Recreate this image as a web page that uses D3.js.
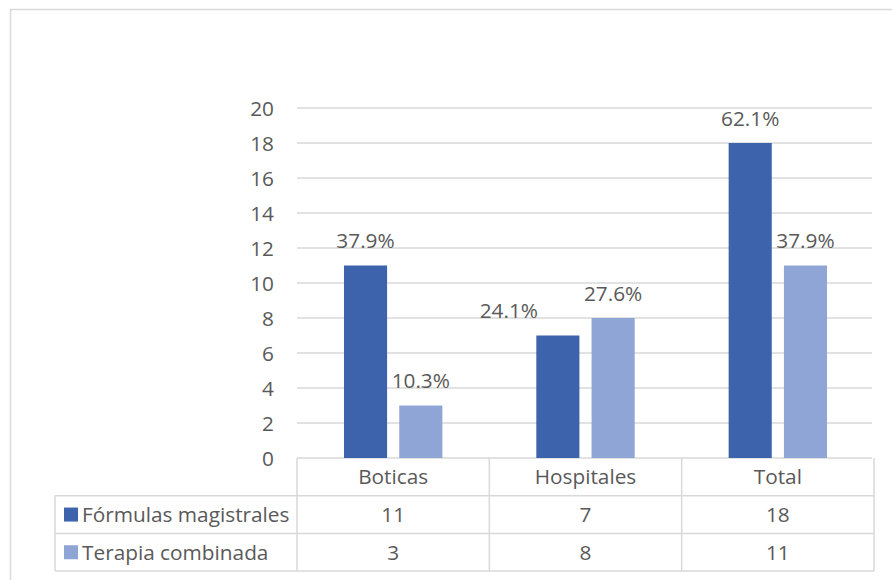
<!DOCTYPE html>
<html>
<head>
<meta charset="utf-8">
<script src="https://cdn.jsdelivr.net/npm/d3@7"></script>
<style>
    body { margin: 0; background: #fff; }
    svg text { font-family: "Open Sans", "Noto Sans", sans-serif; fill: #595959; }
</style>
</head>
<body>
<div id="chart"></div>
<script>
// data
var categories = ["Boticas", "Hospitales", "Total"];
var series = ["Fórmulas magistrales", "Terapia combinada"];
var formulas = [11, 7, 18];
var terapia = [3, 8, 11];
var formulasPct = ["37.9%", "24.1%", "62.1%"];
var terapiaPct = ["10.3%", "27.6%", "37.9%"];
var yTicks = [0, 2, 4, 6, 8, 10, 12, 14, 16, 18, 20];

var colors = ["#3c63ac", "#8fa5d5"];
var grid = "#d9d9d9";
var fs = "20.8px";

var width = 892, height = 580;
var plotLeft = 297, plotRight = 874, plotTop = 108, plotBottom = 458;
var rowH = 37.7, tableLeft = 55;

var svg = d3.select("#chart").append("svg")
    .attr("width", width)
    .attr("height", height);

// chart frame
svg.append("rect")
    .attr("x", 10.5).attr("y", 9.5)
    .attr("width", 900).attr("height", 600)
    .attr("fill", "none").attr("stroke", grid).attr("stroke-width", 1.5);

var y = d3.scaleLinear().domain([0, 20]).range([plotBottom, plotTop]);
var x0 = d3.scaleBand().domain(categories).range([plotLeft, plotRight]);
var x1 = d3.scaleBand().domain(series).range([0, x0.bandwidth()])
    .paddingInner(0.22).paddingOuter(0.85);

// gridlines + tick labels
svg.append("g").selectAll("line")
    .data(yTicks).enter().append("line")
    .attr("x1", plotLeft).attr("x2", plotRight - 2)
    .attr("y1", function (d) { return y(d); })
    .attr("y2", function (d) { return y(d); })
    .attr("stroke", grid).attr("stroke-width", 1.5);

svg.append("g").selectAll("text")
    .data(yTicks).enter().append("text")
    .attr("x", 274)
    .attr("y", function (d) { return y(d) + 7.5; })
    .attr("text-anchor", "end")
    .style("font-size", fs)
    .text(function (d) { return d; });

// bars
var rows = [
    { name: series[0], values: formulas, pct: formulasPct, color: colors[0] },
    { name: series[1], values: terapia, pct: terapiaPct, color: colors[1] }
];

rows.forEach(function (s) {
    svg.append("g").selectAll("rect")
        .data(s.values).enter().append("rect")
        .attr("x", function (d, i) { return x0(categories[i]) + x1(s.name); })
        .attr("y", function (d) { return y(d); })
        .attr("width", x1.bandwidth())
        .attr("height", function (d) { return y(0) - y(d); })
        .attr("fill", s.color);
});

// data labels
var labels = [];
rows.forEach(function (s, si) {
    s.values.forEach(function (v, i) {
        labels.push({
            text: s.pct[i], series: si, cat: i,
            cx: x0(categories[i]) + x1(s.name) + x1.bandwidth() / 2,
            y: y(v) - 17.5
        });
    });
});

var labelSel = svg.append("g").selectAll("text")
    .data(labels).enter().append("text")
    .attr("x", function (d) { return d.cx; })
    .attr("y", function (d) { return d.y; })
    .attr("text-anchor", "middle")
    .style("font-size", fs)
    .text(function (d) { return d.text; });

// nudge a label left when it would run into its neighbour
labelSel.each(function (d) {
    d.w = this.getComputedTextLength();
});
labels.forEach(function (a) {
    if (a.series !== 0) return;
    var b = labels.filter(function (o) { return o.series === 1 && o.cat === a.cat; })[0];
    var overlapX = (a.cx + a.w / 2) > (b.cx - b.w / 2);
    var overlapY = Math.abs(a.y - b.y) < 20;
    if (overlapX && overlapY) a.cx -= 49;
});
labelSel.attr("x", function (d) { return d.cx; });

// data table
var t = svg.append("g");
var r1 = plotBottom + rowH, r2 = r1 + rowH, r3 = r2 + rowH;
var colEdges = [plotLeft].concat(categories.map(function (c) { return x0(c) + x0.bandwidth(); }));

function tline(xa, ya, xb, yb) {
    t.append("line")
        .attr("x1", xa).attr("y1", ya).attr("x2", xb).attr("y2", yb)
        .attr("stroke", grid).attr("stroke-width", 1.5);
}
tline(tableLeft, r1, plotRight, r1);
tline(tableLeft, r2, plotRight, r2);
tline(tableLeft, r3, plotRight, r3);
tline(tableLeft, r1, tableLeft, r3);
colEdges.forEach(function (xe) { tline(xe, plotBottom, xe, r3); });

t.selectAll("text.cat")
    .data(categories).enter().append("text")
    .attr("class", "cat")
    .attr("x", function (d) { return x0(d) + x0.bandwidth() / 2; })
    .attr("y", plotBottom + rowH / 2 + 7.5)
    .attr("text-anchor", "middle")
    .style("font-size", fs)
    .text(function (d) { return d; });

rows.forEach(function (s, si) {
    var top = r1 + si * rowH;
    t.append("rect")
        .attr("x", 64).attr("y", top + rowH / 2 - 7)
        .attr("width", 14).attr("height", 14)
        .attr("fill", s.color);
    t.append("text")
        .attr("x", 82).attr("y", top + rowH / 2 + 7.5)
        .style("font-size", fs)
        .text(s.name);
    t.append("g").selectAll("text")
        .data(s.values).enter().append("text")
        .attr("x", function (d, i) { return x0(categories[i]) + x0.bandwidth() / 2; })
        .attr("y", top + rowH / 2 + 7.5)
        .attr("text-anchor", "middle")
        .style("font-size", fs)
        .text(function (d) { return d; });
});
</script>
</body>
</html>
